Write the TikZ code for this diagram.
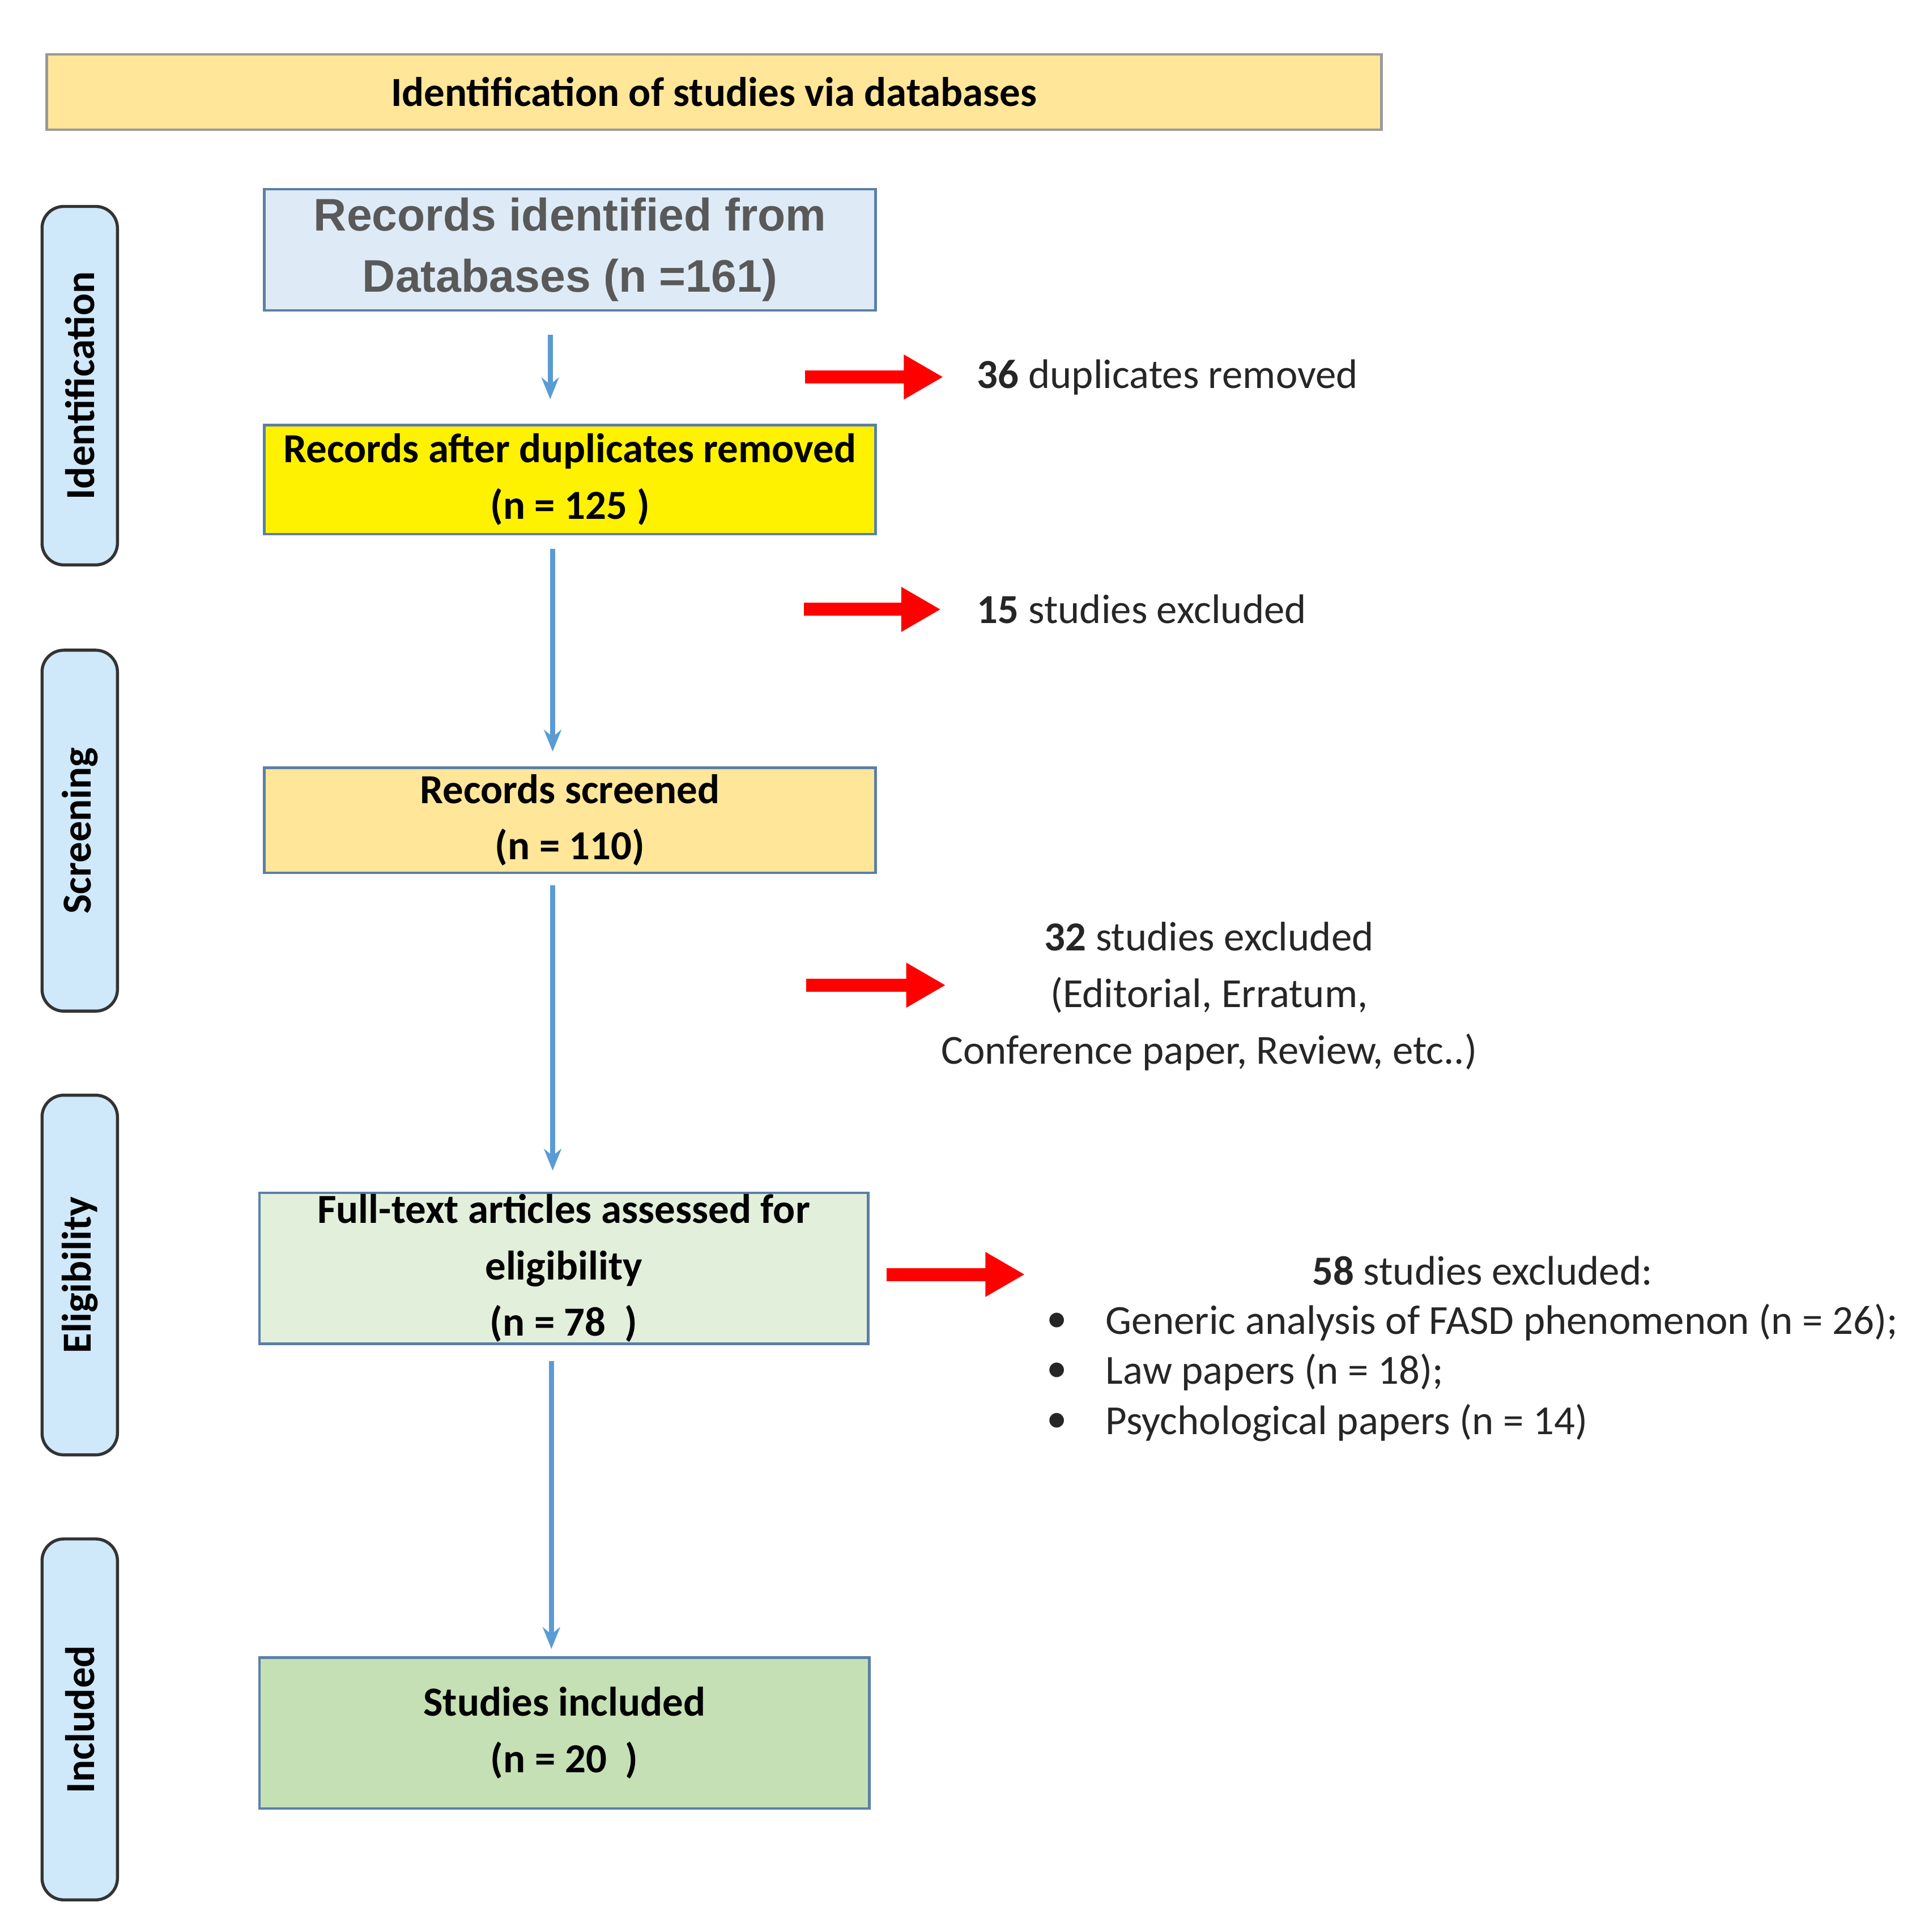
\documentclass[tikz,border=0pt]{standalone}
\usepackage{fontspec}
\setmainfont{Carlito}
\newfontfamily\boxone{Liberation Sans}
\usetikzlibrary{arrows.meta}
\definecolor{titlefill}{HTML}{FFE699}
\definecolor{sidefill}{HTML}{CFE8FA}
\definecolor{bonefill}{HTML}{DEEBF7}
\definecolor{fourfill}{HTML}{E2EFDA}
\definecolor{fivefill}{HTML}{C5E0B4}
\definecolor{boxline}{HTML}{5B7FA8}
\definecolor{bluearr}{HTML}{5B9BD5}
\definecolor{txt}{HTML}{262626}
\begin{document}
\begin{tikzpicture}[x=0.01cm,y=-0.01cm,
  box/.style={draw=boxline,line width=0.6pt,inner sep=0pt,align=center,font=\fontsize{9.5}{13}\selectfont\bfseries,text=black},
  side/.style={draw=black!80,fill=sidefill,line width=0.7pt,rounded corners=5pt},
  sidetxt/.style={rotate=90,font=\fontsize{9.5}{11}\selectfont\bfseries},
  down/.style={draw=bluearr,line width=1.2pt,-{Stealth[length=5pt,width=4pt]}},
  red/.style={draw=red,line width=3pt,-{Triangle[length=0.32cm,width=0.34cm]}},
  note/.style={font=\fontsize{9.5}{13}\selectfont,text=txt}]
\useasboundingbox (0,0) rectangle (1560,1563);
\node[box,fill=titlefill,draw=black!40,minimum width=10.79cm,minimum height=0.61cm] (title) at (577.5,74.5) {Identification of studies via databases};
\foreach \n/\a/\b/\t in {s1/167/457/Identification,s2/526/818/Screening,s3/886/1177/Eligibility,s4/1245/1537/Included}{
  \draw[side] (34,\a) rectangle (95,\b);
  \node[sidetxt] (\n) at (64.5,{(\a+\b)/2}) {\t};
}
\node[box,fill=bonefill,minimum width=4.94cm,minimum height=0.98cm,font=\fontsize{10.5}{14}\boxone\bfseries,text=black!65] (b1) at (461,202) {Records identified from\\Databases (n =161)};
\node[box,fill=yellow,minimum width=4.94cm,minimum height=0.88cm] (b2) at (461,388) {Records after duplicates removed\\(n = 125 )};
\node[box,fill=titlefill,minimum width=4.94cm,minimum height=0.85cm] (b3) at (461,663.5) {Records screened\\(n = 110)};
\node[box,fill=fourfill,minimum width=4.92cm,minimum height=1.22cm] (b4) at (456,1026) {Full-text articles assessed for\\eligibility\\(n = 78\ \ )};
\node[box,fill=fivefill,minimum width=4.93cm,minimum height=1.22cm] (b5) at (456.5,1402) {Studies included\\(n = 20\ \ )};
\coordinate (d1a) at (445,271); \coordinate (d1b) at (445,323);
\coordinate (d2a) at (447,444); \coordinate (d2b) at (447,608);
\coordinate (d3a) at (447,716); \coordinate (d3b) at (447,947);
\coordinate (d4a) at (446,1101); \coordinate (d4b) at (446,1334);
\draw[down] (d1a) -- (d1b);
\draw[down] (d2a) -- (d2b);
\draw[down] (d3a) -- (d3b);
\draw[down] (d4a) -- (d4b);
\coordinate (r1a) at (651,305); \coordinate (r1b) at (763,305);
\coordinate (r2a) at (650,493); \coordinate (r2b) at (761,493);
\coordinate (r3a) at (652,797); \coordinate (r3b) at (765,797);
\coordinate (r4a) at (717,1031); \coordinate (r4b) at (829,1031);
\draw[red] (r1a) -- (r1b);
\draw[red] (r2a) -- (r2b);
\draw[red] (r3a) -- (r3b);
\draw[red] (r4a) -- (r4b);
\node[note,anchor=west] (t1) at (778,305) {\textbf{36} duplicates removed};
\node[note,anchor=west] (t2) at (778,493) {\textbf{15} studies excluded};
\node[note,align=center] (t3) at (978,806) {\textbf{32} studies excluded\\(Editorial, Erratum,\\Conference paper, Review, etc..)};
\node[note] (t4) at (1199,1028) {\textbf{58} studies excluded:};
\foreach \y/\t in {1070/Generic analysis of FASD phenomenon (n = 26);,1110/Law papers (n = 18);,1151/Psychological papers (n = 14)}{
  \node[note] at (855,\y) {\textbullet};
  \node[note,anchor=west] at (882,\y) {\t};
}
\end{tikzpicture}
\end{document}
